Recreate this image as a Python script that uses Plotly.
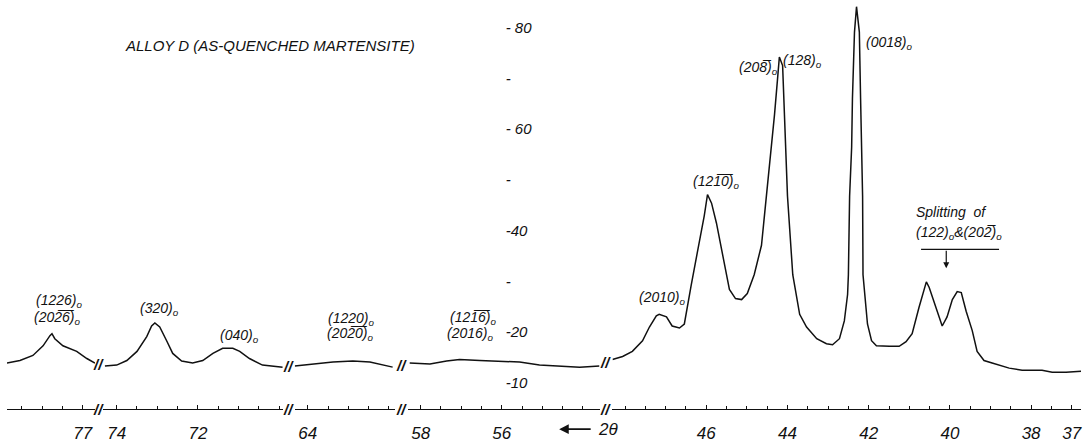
import plotly.graph_objects as go

# Diffractometer trace of alloy D (as-quenched martensite), recorded in five
# stretches of 2θ; each stretch: 2θ in degrees (decreasing) and counts.
two_theta_a = [78.87, 78.55, 78.23, 77.98, 77.81, 77.76, 77.69, 77.49, 77.15, 76.90, 76.70]
counts_a = [13.9, 14.4, 15.4, 17.3, 19.3, 19.7, 18.7, 17.3, 16.2, 14.8, 13.9]

two_theta_b = [74.29, 74.00, 73.75, 73.50, 73.26, 73.14, 73.06, 72.94, 72.77, 72.62, 72.40,
               72.13, 71.88, 71.63, 71.39, 71.14, 70.97, 70.73, 70.41, 69.91]
counts_b = [13.3, 13.5, 14.4, 16.2, 19.1, 21.2, 21.8, 21.0, 18.3, 15.8, 14.3,
            13.9, 14.4, 15.8, 16.8, 16.8, 16.2, 14.8, 13.5, 13.1]

two_theta_c = [64.32, 63.78, 63.38, 62.89, 62.47, 61.91]
counts_c = [13.3, 13.7, 14.1, 14.3, 14.1, 13.1]

two_theta_d = [58.27, 57.77, 57.36, 57.04, 56.54, 56.05, 55.56, 55.07, 54.58, 54.08, 53.59]
counts_d = [13.9, 13.7, 14.3, 14.6, 14.4, 14.3, 14.1, 13.5, 13.3, 13.1, 13.3]

two_theta_e = [48.31, 48.06, 47.82, 47.57, 47.40, 47.23, 47.16, 46.98, 46.84, 46.66, 46.54,
               46.47, 46.37, 46.22, 46.05, 45.97, 45.87, 45.75, 45.63, 45.50, 45.43,
               45.28, 45.13, 44.99, 44.82, 44.64, 44.50, 44.40, 44.32, 44.25, 44.20,
               44.12, 44.07, 44.02, 44.00, 43.87, 43.78, 43.70, 43.53, 43.28, 43.04,
               42.89, 42.72, 42.60, 42.52, 42.50, 42.47, 42.42, 42.40, 42.35, 42.30,
               42.23, 42.20, 42.18, 42.15, 42.14, 42.10, 42.03, 41.93, 41.81, 41.49,
               41.25, 41.08, 40.93, 40.76, 40.63, 40.58, 40.51, 40.34, 40.19, 40.07,
               39.94, 39.82, 39.72, 39.60, 39.45, 39.33, 39.16, 38.96, 38.54, 38.22,
               37.73, 37.48, 37.14, 36.77]
counts_e = [14.6, 15.2, 16.2, 18.3, 21.0, 23.2, 23.5, 23.0, 21.2, 20.8, 21.6,
            24.9, 29.3, 35.7, 42.9, 47.1, 45.4, 41.5, 36.5, 31.3, 28.4,
            26.6, 26.4, 27.6, 31.3, 37.1, 48.1, 56.4, 62.8, 69.4, 74.2,
            72.5, 62.8, 53.1, 46.8, 31.3, 27.4, 23.5, 21.0, 18.7, 17.7,
            17.5, 18.7, 22.2, 27.4, 31.3, 46.8, 56.4, 66.1, 79.1, 84.1,
            79.1, 66.1, 56.4, 46.8, 31.3, 27.4, 21.6, 18.3, 17.3, 17.2,
            17.2, 18.1, 19.7, 24.9, 28.8, 29.9, 28.8, 24.9, 21.2, 23.0,
            26.4, 28.0, 27.8, 24.1, 20.3, 16.2, 14.4, 13.9, 12.9, 12.5,
            12.5, 12.1, 12.1, 12.3]

# Stretches: (2θ values, counts, labelled 2θ ticks, visible 2θ range, width in figure)
stretches = [
    (two_theta_a, counts_a, [77], (78.87, 76.70), (0.0064, 0.0871)),
    (two_theta_b, counts_b, [74, 72], (74.34, 69.91), (0.0944, 0.2594)),
    (two_theta_c, counts_c, [64], (64.32, 61.86), (0.2704, 0.3621)),
    (two_theta_d, counts_d, [58, 56], (58.32, 53.59), (0.3740, 0.5500)),
    (two_theta_e, counts_e, [46, 44, 42, 40, 38, 37], (48.31, 36.77), (0.5619, 0.9918)),
]

count_ticks = [10, 20, 30, 40, 50, 60, 70, 80]
count_tick_text = ["-10", "-20", "-", "-40", "-", "- 60", "-", "- 80"]

INK = "#111111"
FONT = "Liberation Sans"
AXIS_Y = 0.0587  # height of the 2θ scale line in the figure

fig = go.Figure()

for i, (tt, cc, ticks, rng, dom) in enumerate(stretches, start=1):
    xa = "x" if i == 1 else f"x{i}"
    fig.add_trace(go.Scatter(x=tt, y=cc, xaxis=xa, yaxis="y", mode="lines",
                             line=dict(color=INK, width=1.5), hoverinfo="skip"))
    fig.layout[f"xaxis{'' if i == 1 else i}"] = dict(
        domain=list(dom), range=list(rng), anchor="free", position=AXIS_Y,
        showline=True, linecolor=INK, linewidth=1.3, showgrid=False, zeroline=False,
        tickmode="array", tickvals=ticks, ticktext=[str(t) for t in ticks],
        ticks="inside", ticklen=4, tickwidth=1, tickcolor=INK,
        minor=dict(dtick=0.5, ticks="inside", ticklen=3, tickwidth=1, tickcolor=INK, showgrid=False),
        tickfont=dict(family=FONT, size=17, color=INK, style="italic"),
        ticklabelstandoff=8,
    )

fig.update_layout(
    width=1091, height=443, margin=dict(l=0, r=0, t=0, b=0),
    paper_bgcolor="white", plot_bgcolor="white", showlegend=False,
    yaxis=dict(domain=[0, 1], range=[-0.27, 85.42], anchor="free", position=0.463,
               side="right", showline=False, showgrid=False, zeroline=False,
               tickmode="array", tickvals=count_ticks, ticktext=count_tick_text,
               ticks="", tickfont=dict(family=FONT, size=15, color=INK, style="italic")),
)


def label(text, x, y, xref, size=14, yref="y"):
    fig.add_annotation(x=x, y=y, xref=xref, yref=yref, text=text, showarrow=False,
                       xanchor="center", yanchor="middle",
                       font=dict(family=FONT, size=size, color=INK, style="italic"))


# break marks on the trace and on the scale between stretches
for (tt0, cc0, _, _, d0), (tt1, cc1, _, _, d1) in zip(stretches[:-1], stretches[1:]):
    gx = (d0[1] + d1[0]) / 2
    label("<b>//</b>", gx, (cc0[-1] + cc1[0]) / 2, "paper", size=15)
    label("<b>//</b>", gx, AXIS_Y, "paper", size=15, yref="paper")

OV = "\u0305"
sub = "<sub>o</sub>"
label("ALLOY D (AS-QUENCHED MARTENSITE)", 0.248, 0.896, "paper", size=15, yref="paper")
label(f"(1226){sub}", 77.59, 26.1, "x")
label(f"(202{OV}6{OV}){sub}", 77.64, 22.7, "x")
label(f"(320){sub}", 72.94, 24.5, "x2")
label(f"(040){sub}", 70.97, 19.3, "x2")
label(f"(1220){sub}", 62.94, 22.6, "x3")
label(f"(202{OV}0{OV}){sub}", 62.97, 19.7, "x3")
label(f"(121{OV}6{OV}){sub}", 56.72, 22.8, "x4")
label(f"(2016){sub}", 56.79, 19.6, "x4")
label(f"(2010){sub}", 47.10, 26.8, "x5")
label(f"(121{OV}0{OV}){sub}", 45.75, 49.5, "x5")
label(f"(208{OV}){sub}", 44.72, 72.0, "x5")
label(f"(128){sub}", 43.62, 73.5, "x5")
label(f"(0018){sub}", 41.50, 76.9, "x5")
label("Splitting  of", 39.97, 43.7, "x5")
label(f"(122){sub}&(202{OV}){sub}", 39.77, 39.6, "x5")

# bracket line and pointer to the split doublet
fig.add_shape(type="line", xref="x5", yref="y", x0=40.71, x1=38.79, y0=36.3, y1=36.3,
              line=dict(color=INK, width=1.3))
fig.add_annotation(x=40.09, y=32.6, xref="x5", yref="y", ax=0, ay=-19, text="",
                   showarrow=True, arrowhead=2, arrowsize=1, arrowwidth=1.2, arrowcolor=INK)

# scan direction arrow and 2θ symbol
fig.add_annotation(x=0.513, y=0.0135, xref="paper", yref="paper", ax=33, ay=0, text="",
                   showarrow=True, arrowhead=2, arrowsize=1.2, arrowwidth=1.6, arrowcolor=INK)
label("2θ", 0.558, 0.0135, "paper", size=17, yref="paper")

fig.write_html("out.html")
